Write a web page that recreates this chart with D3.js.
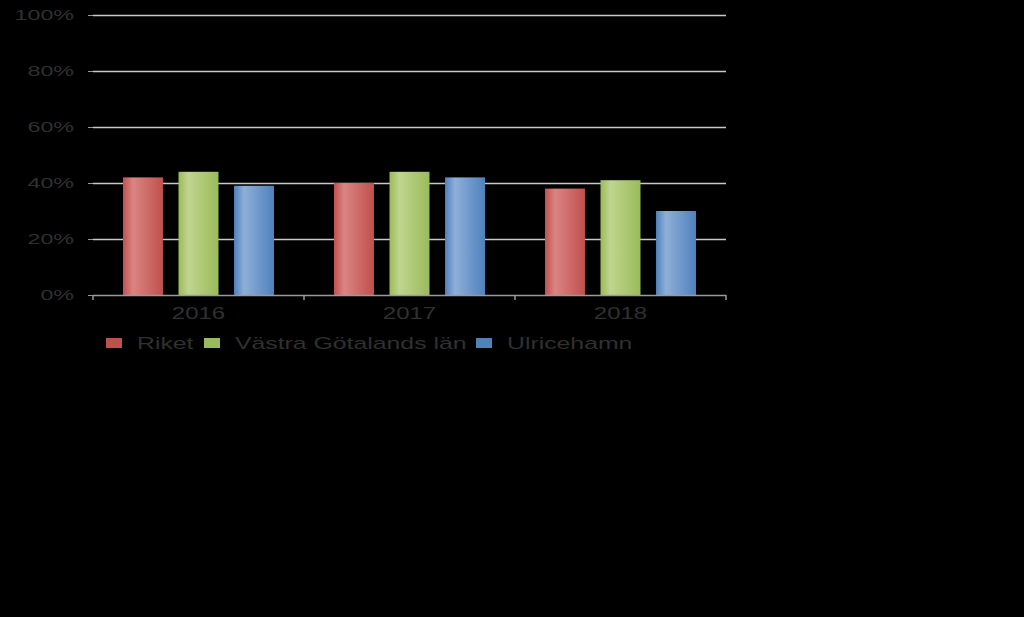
<!DOCTYPE html>
<html><head><meta charset="utf-8">
<script src="https://cdn.jsdelivr.net/npm/d3@7"></script>
<style>html,body{margin:0;padding:0;background:#000;}svg{display:block;}</style>
</head><body>
<svg id="chart" width="1024" height="617"></svg>
<script>
const categories = ["2016", "2017", "2018"];
const seriesNames = ["Riket", "Västra Götalands län", "Ulricehamn"];
const riket = [42, 40, 38];
const vastraGotaland = [44, 44, 41];
const ulricehamn = [39, 42, 30];
const yTicks = [0, 20, 40, 60, 80, 100];

const seriesValues = [riket, vastraGotaland, ulricehamn];
const colors = [
  {base:"#c0504d", light:"#da8583"},
  {base:"#9bbb59", light:"#bfd58f"},
  {base:"#4f81bd", light:"#8fafd8"}
];
const textColor = "#303030";
const sx = 1.5;

const svg = d3.select("#chart");
const defs = svg.append("defs");
colors.forEach((c,i)=>{
  const g = defs.append("linearGradient").attr("id","g"+i).attr("x1","0").attr("x2","1").attr("y1","0").attr("y2","0");
  g.append("stop").attr("offset","0%").attr("stop-color",c.base);
  g.append("stop").attr("offset","25%").attr("stop-color",c.light);
  g.append("stop").attr("offset","100%").attr("stop-color",c.base);
});

const pLeft = 93, pRight = 726, pTop = 15, pBottom = 295;
const x0 = d3.scaleBand().domain(categories).range([pLeft, pRight]).paddingInner(0).paddingOuter(0);
const x1 = d3.scaleBand().domain(d3.range(3)).range([0, x0.bandwidth()]).paddingInner(0.28).paddingOuter(0.54);
const y = d3.scaleLinear().domain([0,100]).range([pBottom, pTop]);

// gridlines
svg.append("g").selectAll("line").data(yTicks.filter(d=>d>0)).join("line")
  .attr("x1", pLeft).attr("x2", pRight)
  .attr("y1", d=>y(d)+0.5).attr("y2", d=>y(d)+0.5)
  .attr("stroke","#c8c8c8").attr("stroke-width",1.5);

// y tick marks
svg.append("g").selectAll("line").data(yTicks).join("line")
  .attr("x1", pLeft-5).attr("x2", pLeft)
  .attr("y1", d=>y(d)+0.5).attr("y2", d=>y(d)+0.5)
  .attr("stroke","#9a9a9a").attr("stroke-width",1);

// y labels
svg.append("g").selectAll("text").data(yTicks).join("text")
  .attr("transform", d=>`translate(74,${y(d)+5}) scale(${sx},1)`)
  .attr("text-anchor","end")
  .attr("font-family","Liberation Sans, Arial, sans-serif")
  .attr("font-size",15.5).attr("fill",textColor)
  .text(d=>d+"%");

// bars
const groups = svg.append("g").selectAll("g").data(categories).join("g")
  .attr("transform", d=>`translate(${x0(d)},0)`);
groups.selectAll("rect").data((d,ci)=>seriesValues.map((s,si)=>({si, v:s[ci]}))).join("rect")
  .attr("x", d=>x1(d.si)).attr("width", x1.bandwidth())
  .attr("y", d=>y(d.v)).attr("height", d=>pBottom - y(d.v))
  .attr("fill", d=>`url(#g${d.si})`);

// x axis
const xa = svg.append("g");
xa.append("line").attr("x1",pLeft).attr("x2",pRight).attr("y1",pBottom+0.5).attr("y2",pBottom+0.5)
  .attr("stroke","#9a9a9a").attr("stroke-width",1.5);
const tickXs = categories.map(c=>x0(c)).concat([pRight]);
xa.selectAll("line.t").data(tickXs).join("line").attr("class","t")
  .attr("x1",d=>d).attr("x2",d=>d).attr("y1",pBottom).attr("y2",pBottom+5)
  .attr("stroke","#9a9a9a").attr("stroke-width",1.5);
xa.selectAll("text").data(categories).join("text")
  .attr("transform", d=>`translate(${x0(d)+x0.bandwidth()/2},319) scale(${sx},1)`)
  .attr("text-anchor","middle")
  .attr("font-family","Liberation Sans, Arial, sans-serif")
  .attr("font-size",16).attr("fill",textColor)
  .text(d=>d);

// legend
const legendX = [106, 204, 476];
const lg = svg.append("g").selectAll("g").data(seriesNames).join("g")
  .attr("transform",(d,i)=>`translate(${legendX[i]},338)`);
lg.append("rect").attr("width",16).attr("height",10).attr("fill",(d,i)=>colors[i].base);
lg.append("text")
  .attr("transform",`translate(31,11) scale(1.55,1)`)
  .attr("font-family","Liberation Sans, Arial, sans-serif")
  .attr("font-size",16).attr("fill",textColor)
  .text(d=>d);
</script>
</body></html>
